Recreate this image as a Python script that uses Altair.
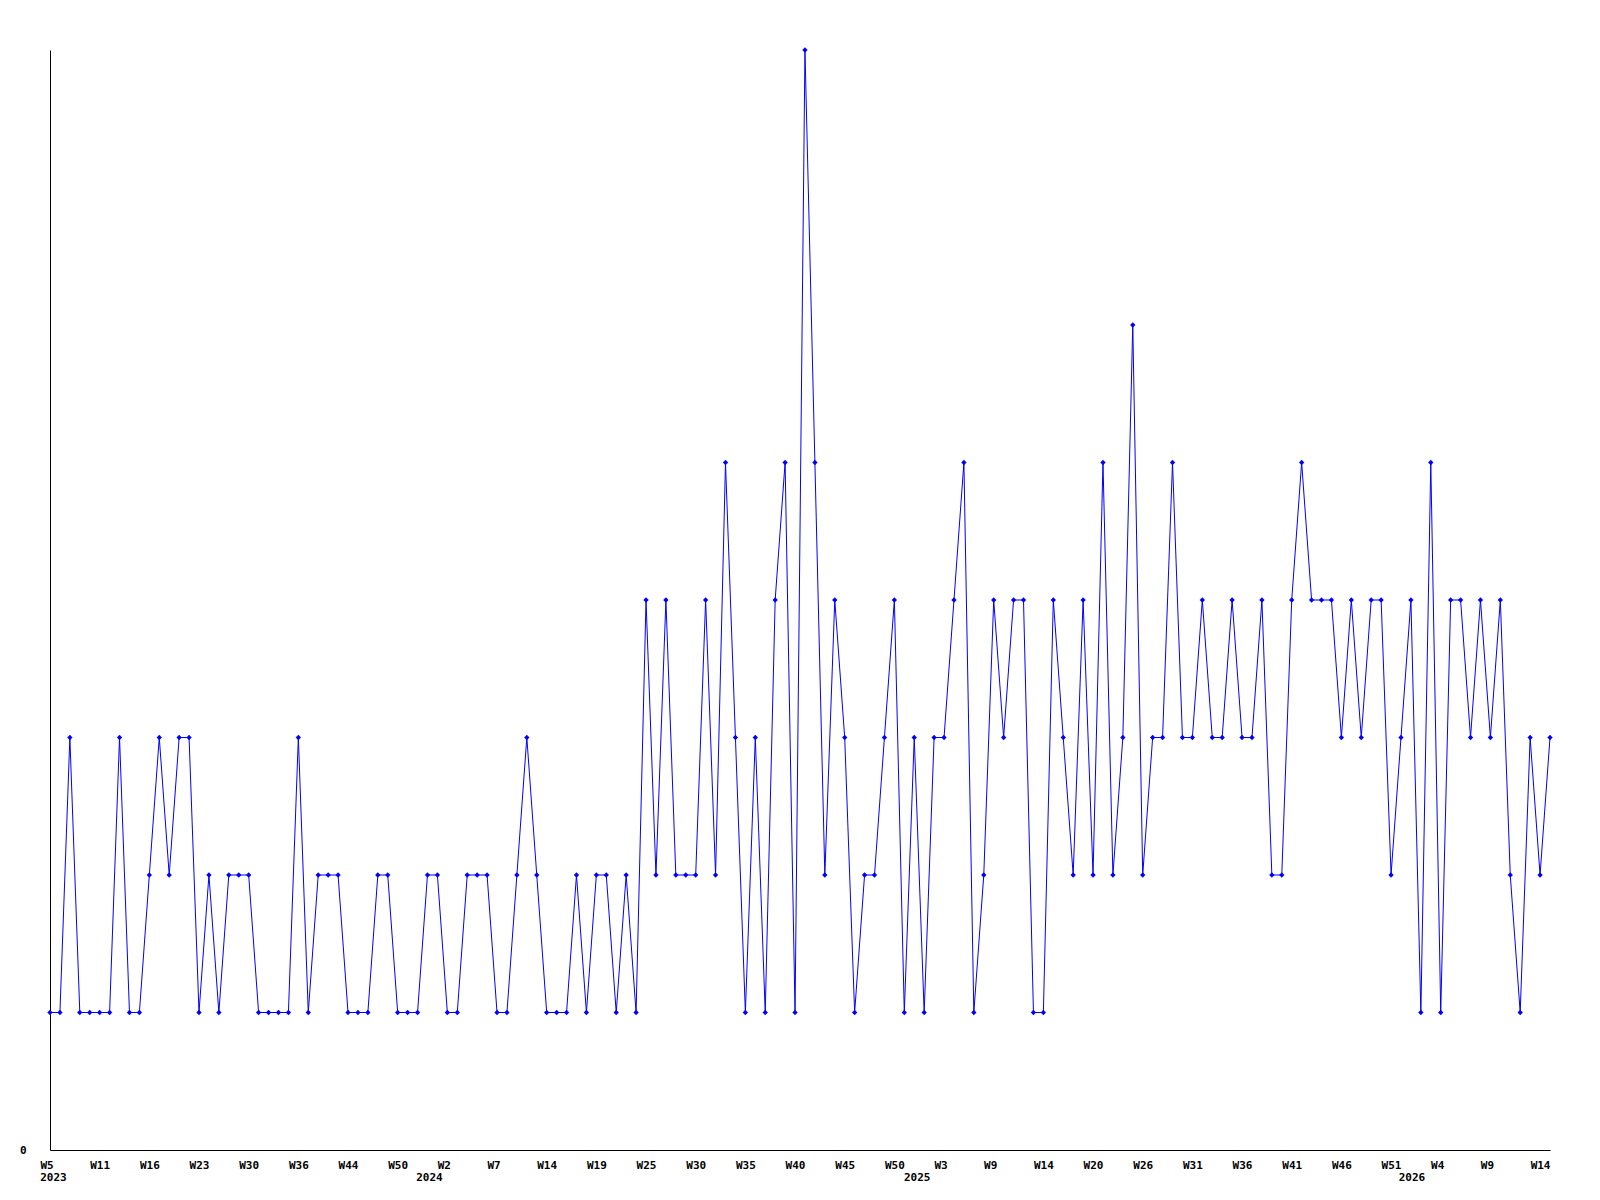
import altair as alt
import pandas as pd

# Values per data point
values = [1, 1, 3, 1, 1, 1, 1, 3, 1, 1,
          2, 3, 2, 3, 3, 1, 2, 1, 2, 2,
          2, 1, 1, 1, 1, 3, 1, 2, 2, 2,
          1, 1, 1, 2, 2, 1, 1, 1, 2, 2,
          1, 1, 2, 2, 2, 1, 1, 2, 3, 2,
          1, 1, 1, 2, 1, 2, 2, 1, 2, 1,
          4, 2, 4, 2, 2, 2, 4, 2, 5, 3,
          1, 3, 1, 4, 5, 1, 8, 5, 2, 4,
          3, 1, 2, 2, 3, 4, 1, 3, 1, 3,
          3, 4, 5, 1, 2, 4, 3, 4, 4, 1,
          1, 4, 3, 2, 4, 2, 5, 2, 3, 6,
          2, 3, 3, 5, 3, 3, 4, 3, 3, 4,
          3, 3, 4, 2, 2, 4, 5, 4, 4, 4,
          3, 4, 3, 4, 4, 2, 3, 4, 1, 5,
          1, 4, 4, 3, 4, 3, 4, 2, 1, 3,
          2, 3]

# Week tick labels, one every 5 data points
week_labels = ["W5", "W11", "W16", "W23", "W30", "W36", "W44", "W50",
               "W2", "W7", "W14", "W19", "W25", "W30", "W35", "W40", "W45", "W50",
               "W3", "W9", "W14", "W20", "W26", "W31", "W36", "W41", "W46", "W51",
               "W4", "W9", "W14"]
label_step = 5

# Year labels and where each year starts (in data-point units)
years = ["2023", "2024", "2025", "2026"]
year_starts = [0.35, 38.2, 87.3, 137.1]

FONT = "DejaVu Sans Mono"
BLUE = "#0000FF"

df = pd.DataFrame({"i": list(range(len(values))), "v": values})
ydf = pd.DataFrame({"pos": year_starts, "year": years})

tick_vals = [k * label_step for k in range(len(week_labels))]
arr = "[" + ",".join("'" + w + "'" for w in week_labels) + "]"
short_ticks = [k * label_step for k, w in enumerate(week_labels) if len(w) < 3]
short_test = "indexof([" + ",".join(str(t) for t in short_ticks) + "], datum.value) >= 0"

W = 1500
H = 1100

xscale = alt.Scale(domain=[0, len(values) - 1], nice=False, zero=False)
yscale = alt.Scale(domain=[0, 8], nice=False, zero=True)

xaxis = alt.Axis(values=tick_vals, labelExpr=f"{arr}[round(datum.value/{label_step})]",
                 title=None, grid=False, ticks=False, domainColor="black", domainWidth=1,
                 labelFont=FONT, labelFontWeight="bold", labelFontSize=11, labelColor="black",
                 labelPadding=9, labelFlush=False, labelOverlap=False, labelBound=False,
                 labelOffset={"condition": {"test": short_test, "value": -3.5}, "value": 0})
yaxis = alt.Axis(values=[0], title=None, grid=False, ticks=False, domainColor="black", domainWidth=1,
                 labelFont=FONT, labelFontWeight="bold", labelFontSize=11, labelColor="black",
                 labelPadding=24)

base = alt.Chart(df).encode(
    x=alt.X("i:Q", scale=xscale, axis=xaxis),
    y=alt.Y("v:Q", scale=yscale, axis=yaxis),
)

line = base.mark_line(color=BLUE, strokeWidth=1)
pts = base.mark_point(shape="diamond", filled=True, color=BLUE, size=28, opacity=1)

year_text = alt.Chart(ydf).mark_text(
    font=FONT, fontWeight="bold", fontSize=11, color="black", align="center", baseline="alphabetic"
).encode(
    x=alt.X("pos:Q", scale=xscale),
    y=alt.value(H + 31),
    text="year:N",
)

chart = alt.layer(line, pts, year_text).properties(
    width=W, height=H,
    autosize=alt.AutoSizeParams(type="none"),
    padding={"left": 42, "top": 42, "right": 20, "bottom": 40},
    background="white",
).configure_view(stroke=None)

chart.save("out.html", embed_options={"renderer": "svg", "actions": False})
